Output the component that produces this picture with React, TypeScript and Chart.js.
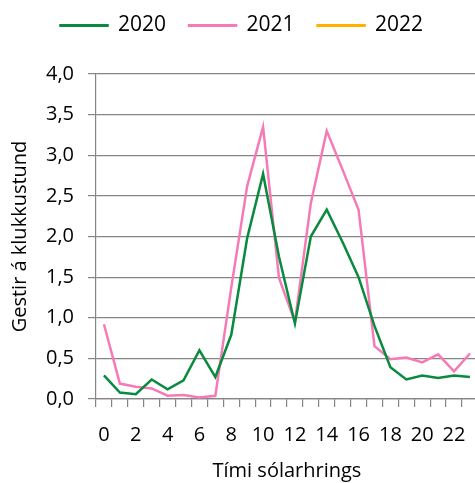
import React, { useEffect, useRef } from "react";
import { Chart, registerables } from "chart.js";

Chart.register(...registerables);

const hours: string[] = Array.from({ length: 24 }, (_, i) => String(i));
const series2020: number[] = [0.29, 0.08, 0.06, 0.24, 0.12, 0.23, 0.6, 0.27, 0.79, 1.98, 2.77, 1.75, 0.93, 2.0, 2.33, 1.93, 1.5, 0.9, 0.39, 0.24, 0.29, 0.26, 0.29, 0.27];
const series2021: number[] = [0.92, 0.19, 0.15, 0.13, 0.04, 0.05, 0.02, 0.04, 1.37, 2.62, 3.35, 1.49, 0.95, 2.41, 3.3, 2.82, 2.33, 0.65, 0.49, 0.51, 0.45, 0.55, 0.34, 0.56];
const series2022: (number | null)[] = [];
const seriesNames: string[] = ["2020", "2021", "2022"];
const seriesColors: string[] = ["#0A8A3E", "#F57AB6", "#FFB300"];
const yTitle = "Gestir á klukkustund";
const xTitle = "Tími sólarhrings";

export default function App() {
  const ref = useRef<HTMLCanvasElement | null>(null);
  useEffect(() => {
    document.body.style.margin = "0";
    document.body.style.overflow = "hidden";
    const font = "'Open Sans', sans-serif";
    const grid = "#858585";
    const all = [series2020, series2021, series2022];
    const legendGap = {
      id: "legendGap",
      beforeInit(c: any) {
        const orig = c.legend.fit;
        c.legend.fit = function () {
          orig.bind(c.legend)();
          this.height += 28;
        };
      },
    };
    const chart = new Chart(ref.current!, {
      type: "line",
      data: {
        labels: hours,
        datasets: all.map((d, i) => ({
          label: seriesNames[i],
          data: d,
          borderColor: seriesColors[i],
          backgroundColor: seriesColors[i],
          borderWidth: 2.5,
          pointRadius: 0,
          tension: 0,
        })),
      },
      plugins: [legendGap],
      options: {
        animation: false,
        responsive: false,
        layout: { padding: { top: -8, right: 2.4, left: 0, bottom: 0 } },
        plugins: {
          tooltip: { enabled: false },
          legend: {
            position: "top",
            labels: {
              boxWidth: 47,
              boxHeight: 0.5,
              padding: 23,
              color: "#000",
              font: { family: font, size: 21 },
            },
          },
        },
        scales: {
          x: {
            type: "category",
            offset: true,
            afterFit: (s: any) => {
              s.height = 84;
            },
            grid: {
              display: true,
              drawOnChartArea: false,
              drawTicks: true,
              tickLength: 8,
              offset: true,
              color: grid,
              lineWidth: 1.2,
            },
            border: { display: true, color: grid, width: 1.2 },
            ticks: {
              autoSkip: false,
              maxRotation: 0,
              padding: 16,
              color: "#000",
              font: { family: font, size: 20 },
              callback: (_v: any, idx: number) => (idx % 2 === 0 ? hours[idx] : ""),
            },
            title: {
              display: true,
              text: xTitle,
              color: "#000",
              font: { family: font, size: 20 },
              padding: { top: 0, bottom: 0 },
            },
          },
          y: {
            min: 0,
            max: 4,
            afterFit: (s: any) => {
              s.width = 96;
            },
            grid: { color: grid, lineWidth: 1.2, tickLength: 8 },
            border: { display: true, color: grid, width: 1.2 },
            ticks: {
              stepSize: 0.5,
              padding: 14,
              color: "#000",
              font: { family: font, size: 20 },
              callback: (v: any) => Number(v).toFixed(1).replace(".", ","),
            },
            title: {
              display: true,
              text: yTitle,
              color: "#000",
              font: { family: font, size: 20 },
              padding: { top: 8, bottom: 4 },
            },
          },
        },
      },
    });
    return () => chart.destroy();
  }, []);
  return (
    <div style={{ width: 486, height: 483 }}>
      <canvas ref={ref} width={486} height={483} style={{ width: 486, height: 483, display: "block" }} />
    </div>
  );
}
